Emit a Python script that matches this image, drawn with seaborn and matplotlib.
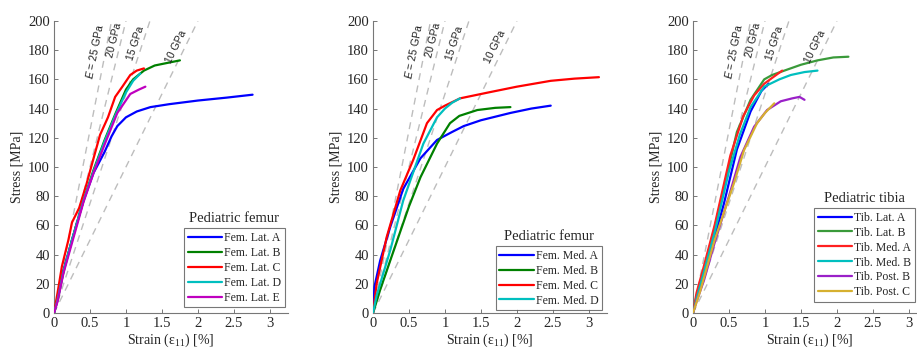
import numpy as np
import pandas as pd
import seaborn as sns
import matplotlib.pyplot as plt
from matplotlib.ticker import FuncFormatter

# femur, lateral side
fem_lat_names = ['Fem. Lat. A', 'Fem. Lat. B', 'Fem. Lat. C', 'Fem. Lat. D', 'Fem. Lat. E']
fem_lat_a_x = [0, 0.05, 0.13, 0.25, 0.41, 0.55, 0.7, 0.8, 0.88, 1.0, 1.15, 1.34, 1.6, 2.0, 2.4, 2.76]
fem_lat_a_y = [0, 10, 29, 50, 77, 96, 110, 121, 128, 134, 138, 141, 143, 145.5, 147.5, 149.5]
fem_lat_b_x = [0, 0.05, 0.13, 0.25, 0.41, 0.55, 0.7, 0.85, 1.0, 1.1, 1.25, 1.4, 1.6, 1.75]
fem_lat_b_y = [0, 9, 28, 50, 77, 98, 118, 136, 153, 160, 166, 169.5, 171.5, 173]
fem_lat_c_x = [0, 0.05, 0.11, 0.2, 0.25, 0.35, 0.45, 0.55, 0.64, 0.75, 0.85, 0.95, 1.06, 1.15, 1.25]
fem_lat_c_y = [0, 14, 32, 50, 62, 72, 88, 106, 122, 134, 148, 155, 163, 166, 167.5]
fem_lat_d_x = [0, 0.05, 0.13, 0.25, 0.41, 0.55, 0.7, 0.85, 1.0, 1.1, 1.2]
fem_lat_d_y = [0, 9, 28, 50, 77, 97, 117, 135, 151, 159, 164]
fem_lat_e_x = [0, 0.05, 0.13, 0.25, 0.41, 0.55, 0.7, 0.88, 1.06, 1.18, 1.27]
fem_lat_e_y = [0, 8, 27, 48, 76, 96, 115, 137, 150, 153, 155]

# femur, medial side
fem_med_names = ['Fem. Med. A', 'Fem. Med. B', 'Fem. Med. C', 'Fem. Med. D']
fem_med_a_x = [0, 0.02, 0.1, 0.24, 0.42, 0.66, 0.89, 1.1, 1.26, 1.5, 1.91, 2.2, 2.47]
fem_med_a_y = [0, 18, 36, 59, 85, 106, 118.5, 124, 128, 132, 137, 140, 142]
fem_med_b_x = [0, 0.1, 0.24, 0.5, 0.66, 0.89, 1.07, 1.2, 1.45, 1.7, 1.91]
fem_med_b_y = [0, 16, 36, 73, 93, 116, 130, 135, 139, 140.5, 141]
fem_med_c_x = [0, 0.05, 0.19, 0.38, 0.56, 0.75, 0.89, 1.0, 1.21, 1.6, 2.0, 2.47, 2.8, 3.14]
fem_med_c_y = [0, 20, 52, 84, 105, 130, 139, 142, 147, 151, 155, 159, 160.5, 161.5]
fem_med_d_x = [0, 0.05, 0.24, 0.42, 0.7, 0.89, 1.0, 1.1, 1.21]
fem_med_d_y = [0, 12, 43, 77, 116, 134, 140, 144, 147]

# tibia
tib_names = ['Tib. Lat. A', 'Tib. Lat. B', 'Tib. Med. A', 'Tib. Med. B', 'Tib. Post. B', 'Tib. Post. C']
tib_lat_a_x = [0, 0.05, 0.14, 0.3, 0.43, 0.61, 0.8, 0.95, 1.05]
tib_lat_a_y = [0, 10, 24, 52, 75, 112, 138, 152, 157]
tib_lat_b_x = [0, 0.05, 0.14, 0.3, 0.45, 0.61, 0.8, 0.99, 1.1, 1.27, 1.5, 1.73, 1.95, 2.16]
tib_lat_b_y = [0, 12, 28, 58, 90, 124, 146, 160, 163, 166, 170, 173, 175, 175.5]
tib_med_a_x = [0, 0.05, 0.14, 0.3, 0.52, 0.7, 0.85, 0.99, 1.1, 1.24]
tib_med_a_y = [0, 14, 30, 60, 108, 135, 149, 157, 161, 166]
tib_med_b_x = [0, 0.05, 0.14, 0.3, 0.5, 0.65, 0.8, 0.99, 1.2, 1.36, 1.55, 1.73]
tib_med_b_y = [0, 10, 26, 55, 97, 122, 141, 155, 160, 163, 165, 166]
tib_post_b_x = [0, 0.05, 0.15, 0.3, 0.5, 0.66, 0.85, 1.03, 1.22, 1.38, 1.48, 1.55]
tib_post_b_y = [0, 8, 22, 48, 80, 107, 127.6, 139, 145, 147, 148, 146]
tib_post_c_x = [0, 0.1, 0.3, 0.57, 0.71, 0.89, 1.0, 1.13]
tib_post_c_y = [0, 15, 50, 89, 111.6, 130, 137, 143.6]

# reference moduli (GPa) and where their labels sit (strain %, stress MPa)
moduli = [25, 20, 15, 10]
mod_labels = ['$E$ = 25 GPa', '20 GPa', '15 GPa', '10 GPa']
mod_label_x = [0.57, 0.84, 1.14, 1.70]
mod_label_y = [179, 187, 185, 182]

colors6 = ['#0000ff', '#008000', '#ff0000', '#00bfbf', '#bf00bf', '#c8b400']
colors_tib = ['#0000ff', '#3a9a3a', '#ff2020', '#00bfbf', '#9a20c8', '#d6b030']


def to_long(names, xs, ys):
    frames = []
    for n, x, y in zip(names, xs, ys):
        frames.append(pd.DataFrame({'strain': x, 'stress': y, 'specimen': n}))
    return pd.concat(frames, ignore_index=True)


panels = [
    ('Pediatric femur', fem_lat_names,
     [fem_lat_a_x, fem_lat_b_x, fem_lat_c_x, fem_lat_d_x, fem_lat_e_x],
     [fem_lat_a_y, fem_lat_b_y, fem_lat_c_y, fem_lat_d_y, fem_lat_e_y],
     colors6, (0.987, 0.02)),
    ('Pediatric femur', fem_med_names,
     [fem_med_a_x, fem_med_b_x, fem_med_c_x, fem_med_d_x],
     [fem_med_a_y, fem_med_b_y, fem_med_c_y, fem_med_d_y],
     colors6, (0.98, 0.01)),
    ('Pediatric tibia', tib_names,
     [tib_lat_a_x, tib_lat_b_x, tib_med_a_x, tib_med_b_x, tib_post_b_x, tib_post_c_x],
     [tib_lat_a_y, tib_lat_b_y, tib_med_a_y, tib_med_b_y, tib_post_b_y, tib_post_c_y],
     colors_tib, (0.95, 0.038)),
]

sns.set_style('ticks')
plt.rcParams['font.family'] = ['Liberation Serif', 'DejaVu Serif']
plt.rcParams['mathtext.fontset'] = 'custom'
plt.rcParams['mathtext.rm'] = 'Liberation Serif'
plt.rcParams['mathtext.it'] = 'Liberation Sans:italic'

fig = plt.figure(figsize=(9.17, 3.49), dpi=100)
lefts = [54 / 917, 373 / 917, 693 / 917]

for left, (title, names, xs, ys, cols, anchor) in zip(lefts, panels):
    ax = fig.add_axes([left, 0.103, 0.255, 0.837])
    ax.set_xlim(0, 3.25)
    ax.set_ylim(0, 200)

    # dashed modulus lines through the origin
    for E in moduli:
        ax.plot([0, 200 / (10 * E)], [0, 200], ls=(0, (5, 4)), color='#bdbdbd', lw=1.0, zorder=1)

    df = to_long(names, xs, ys)
    sns.lineplot(data=df, x='strain', y='stress', hue='specimen', palette=dict(zip(names, cols)),
                 estimator=None, sort=False, lw=1.6, ax=ax, zorder=3)

    fig.canvas.draw()
    for E, lab, lx, ly in zip(moduli, mod_labels, mod_label_x, mod_label_y):
        p0 = ax.transData.transform((0, 0))
        p1 = ax.transData.transform((1, 10 * E))
        ang = np.degrees(np.arctan2(p1[1] - p0[1], p1[0] - p0[0]))
        ax.text(lx, ly, lab, rotation=ang, ha='center', va='center', fontsize=7.5,
                family=['Liberation Sans', 'DejaVu Sans'], color='#222222', zorder=4,
                rotation_mode='anchor')

    handles, labels = ax.get_legend_handles_labels()
    leg = ax.legend(handles, labels, loc='lower right', bbox_to_anchor=anchor, fontsize=8.5,
                    handlelength=2.9, handletextpad=0.2, borderpad=0.3, labelspacing=0.25,
                    frameon=True, fancybox=False, edgecolor='#555555', borderaxespad=0)
    leg.get_frame().set_linewidth(0.8)
    fig.canvas.draw()
    bb = leg.get_window_extent().transformed(ax.transAxes.inverted())
    ax.text((bb.x0 + bb.x1) / 2, bb.y1 + 0.01, title, transform=ax.transAxes,
            ha='center', va='bottom', fontsize=10.5)

    ax.set_xticks([0, 0.5, 1, 1.5, 2, 2.5, 3])
    ax.set_yticks(np.arange(0, 201, 20))
    ax.xaxis.set_major_formatter(FuncFormatter(lambda v, p: '%g' % v))
    ax.tick_params(direction='in', length=3, width=0.7, color='#777777', labelsize=10.5, pad=3)
    ax.set_xlabel('Strain (ε$_{11}$) [%]', fontsize=10, labelpad=1)
    ax.set_ylabel('Stress [MPa]', fontsize=10, labelpad=3)
    sns.despine(ax=ax)
    for s in ['left', 'bottom']:
        ax.spines[s].set_color('#777777')
        ax.spines[s].set_linewidth(0.8)

fig.savefig('out.png', dpi=100, facecolor='white')
